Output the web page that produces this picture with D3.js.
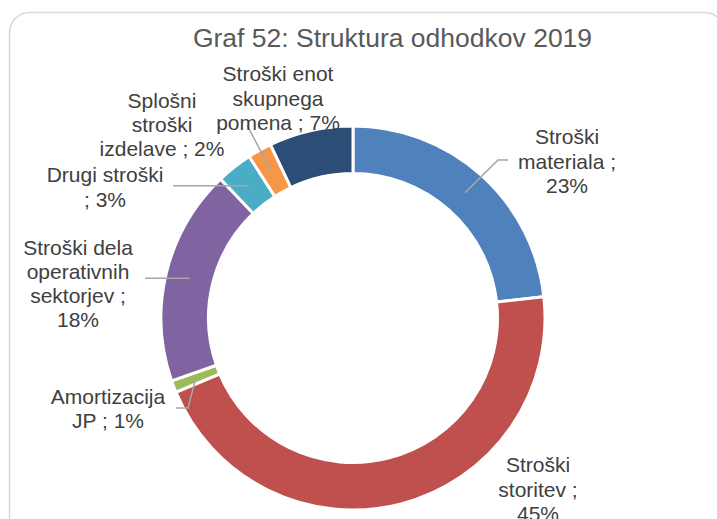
<!DOCTYPE html>
<html>
<head>
<meta charset="utf-8">
<script src="https://cdn.jsdelivr.net/npm/d3@7"></script>
<style>
  html, body { margin: 0; padding: 0; background: #ffffff; }
  svg { display: block; }
  text { font-family: "Liberation Sans", Arial, sans-serif; }
</style>
</head>
<body>
<div id="chart"></div>
<script>
// Expense structure 2019 (shares in %)
const categories = [
  "Stroški materiala",
  "Stroški storitev",
  "Amortizacija JP",
  "Stroški dela operativnih sektorjev",
  "Drugi stroški",
  "Splošni stroški izdelave",
  "Stroški enot skupnega pomena"
];
const values = [23, 45, 1, 18, 3, 2, 7];
const colors = ["#4F81BD", "#C0504D", "#9BBB59", "#8064A2", "#4BACC6", "#F79646", "#2C4D75"];
const title = "Graf 52: Struktura odhodkov 2019";

// Label layout: words per line, block centre x, first baseline y, line step,
// and the label-side points of the leader line (empty = no leader).
const labelLayout = [
  { lines: [1, 2, 1],    x: 567, y: 144, step: 24.5, leader: [[498, 160], [508, 160]] },
  { lines: [1, 2, 1],    x: 538, y: 472, step: 24.5, leader: [] },
  { lines: [1, 3],       x: 108, y: 404, step: 23.5, leader: [[188, 408], [176, 408]] },
  { lines: [2, 1, 2, 1], x: 78,  y: 255, step: 24,   leader: [[145, null]] },
  { lines: [2, 2],       x: 105, y: 182, step: 25,   leader: [[173, null]] },
  { lines: [1, 1, 3],    x: 162, y: 108, step: 24,   leader: [[247, 125]] },
  { lines: [2, 1, 3],    x: 278, y: 81,  step: 24.5, leader: [] }
];

const W = 717, H = 519;
const cx = 353, cy = 318;
const outerR = 192, innerR = 144.5;

const svg = d3.select("#chart").append("svg")
  .attr("width", W).attr("height", H);

svg.append("rect").attr("width", W).attr("height", H).attr("fill", "#ffffff");

// chart frame
svg.append("rect")
  .attr("x", 9.5).attr("y", 12.5)
  .attr("width", 715).attr("height", 540)
  .attr("rx", 20).attr("ry", 20)
  .attr("fill", "#ffffff")
  .attr("stroke", "#D9D9D9")
  .attr("stroke-width", 1.5);

svg.append("text")
  .attr("x", 392.5).attr("y", 47)
  .attr("text-anchor", "middle")
  .attr("font-size", 26.5)
  .attr("fill", "#595959")
  .text(title);

const rows = categories.map((c, i) => ({ name: c, value: values[i], color: colors[i], layout: labelLayout[i] }));

const pie = d3.pie().sort(null).value(d => d.value).startAngle(0).endAngle(2 * Math.PI);
const arc = d3.arc().innerRadius(innerR).outerRadius(outerR);
const arcs = pie(rows);

const g = svg.append("g").attr("transform", `translate(${cx},${cy})`);

g.selectAll("path.slice")
  .data(arcs)
  .join("path")
  .attr("class", "slice")
  .attr("d", arc)
  .attr("fill", d => d.data.color)
  .attr("stroke", "#ffffff")
  .attr("stroke-width", 3)
  .attr("stroke-linejoin", "miter");

// leader lines from slice centroid to the label
const line = d3.line();
arcs.forEach(d => {
  const L = d.data.layout;
  if (!L.leader.length) return;
  const c = arc.centroid(d);
  const start = [cx + c[0], cy + c[1]];
  const pts = [start].concat(L.leader.map(p => [p[0], p[1] === null ? start[1] : p[1]]));
  svg.append("path")
    .attr("d", line(pts))
    .attr("fill", "none")
    .attr("stroke", "#A6A6A6")
    .attr("stroke-width", 1.5);
});

// data labels: "category ; value%" wrapped by word counts
arcs.forEach(d => {
  const L = d.data.layout;
  const words = (d.data.name + " ; " + d.data.value + "%").split(" ");
  const textLines = [];
  let k = 0;
  L.lines.forEach(n => { textLines.push(words.slice(k, k + n).join(" ")); k += n; });
  const t = svg.append("text")
    .attr("text-anchor", "middle")
    .attr("font-size", 21)
    .attr("fill", "#404040");
  textLines.forEach((s, i) => {
    t.append("tspan").attr("x", L.x).attr("y", L.y + i * L.step).text(s);
  });
});
</script>
</body>
</html>
